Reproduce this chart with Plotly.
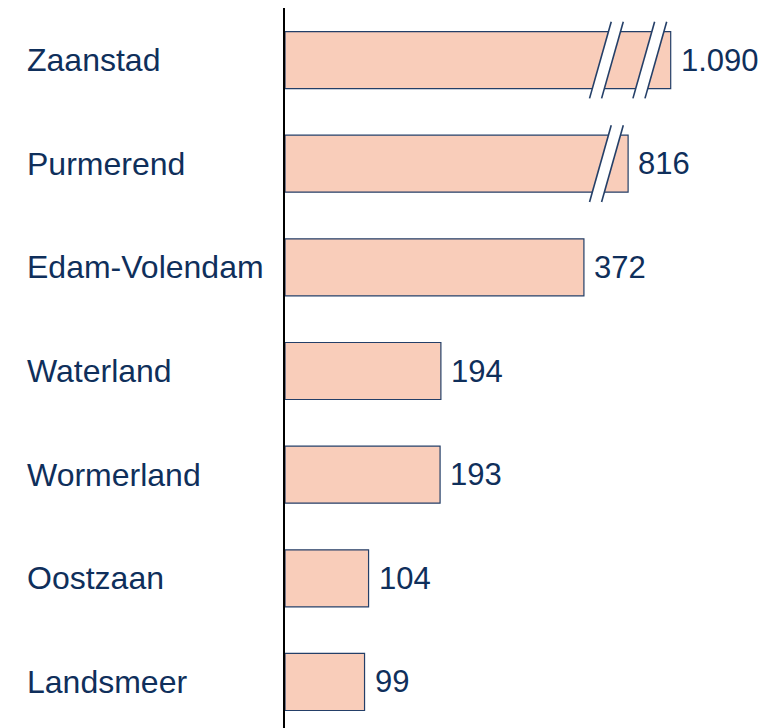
import plotly.graph_objects as go

# Data
gemeenten = ["Zaanstad", "Purmerend", "Edam-Volendam", "Waterland", "Wormerland", "Oostzaan", "Landsmeer"]
waarden = [1090, 816, 372, 194, 193, 104, 99]
# bar lengths as drawn (axis broken for the two largest)
getekend = [480, 427, 372, 194, 193, 104, 99]
breuken = [[400, 454], [400], [], [], [], [], []]
labels = ["1.090", "816", "372", "194", "193", "104", "99"]

NAVY = "#0F2F5B"
FILL = "#F9CDBA"
EDGE = "#243F68"
FONT = "Liberation Sans, Arial, sans-serif"

# page body has an 8px margin
W, H = 776, 720
ML, MR, MT, MB = 277, 0, 0, 0
XMAX = 621

yidx = list(range(len(gemeenten)))

fig = go.Figure()
fig.add_trace(go.Bar(
    x=getekend, y=yidx, orientation="h", width=0.55,
    marker=dict(color=FILL, line=dict(color=EDGE, width=1.2)),
    hoverinfo="skip", showlegend=False,
))

annotations = []
for i, (g, d, lab) in enumerate(zip(gemeenten, getekend, labels)):
    annotations.append(dict(
        x=(17 - ML) / (W - ML - MR), xref="paper", y=i, yref="y",
        text=g, showarrow=False, xanchor="left", yanchor="middle",
        font=dict(family=FONT, size=32, color=NAVY)))
    annotations.append(dict(
        x=d, xref="x", y=i, yref="y", text=lab, showarrow=False,
        xanchor="left", yanchor="middle", xshift=8,
        font=dict(family=FONT, size=31, color=NAVY)))

shapes = []
gap = 15      # data units between the two break lines
slant = 13.5  # half horizontal offset of a break line
half = 0.37   # vertical half-extent of break marks
for i, bs in enumerate(breuken):
    for b in bs:
        xa = b - gap / 2
        xb = b + gap / 2
        y0, y1 = i + half, i - half
        path = (f"M {xa - slant},{y0} L {xa + slant},{y1} "
                f"L {xb + slant},{y1} L {xb - slant},{y0} Z")
        shapes.append(dict(type="path", path=path, xref="x", yref="y",
                           fillcolor="white", line=dict(width=0), layer="above"))
        for xc in (xa, xb):
            shapes.append(dict(type="line", xref="x", yref="y",
                               x0=xc - slant, y0=y0, x1=xc + slant, y1=y1,
                               line=dict(color=EDGE, width=1.6), layer="above"))

fig.update_layout(
    width=W, height=H,
    margin=dict(l=ML, r=MR, t=MT, b=MB, pad=0),
    paper_bgcolor="white", plot_bgcolor="white",
    xaxis=dict(range=[0, XMAX], visible=False, fixedrange=True),
    yaxis=dict(range=[6.444, -0.502], showticklabels=False, showgrid=False,
               zeroline=False, ticks="", showline=True, linecolor="black",
               linewidth=2, fixedrange=True),
    annotations=annotations, shapes=shapes,
    bargap=0.45,
)

fig.write_html("out.html")
